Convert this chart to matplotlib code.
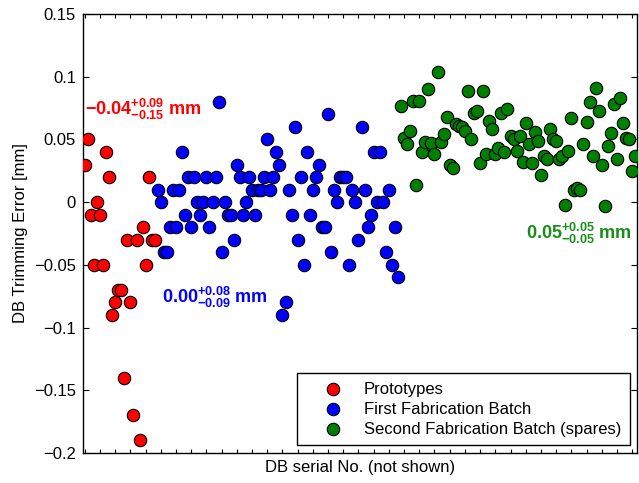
import matplotlib
matplotlib.use("Agg")
import matplotlib.pyplot as plt
import numpy as np

plt.rcParams['font.family'] = ['Liberation Sans', 'DejaVu Sans']
plt.rcParams['mathtext.fontset'] = 'custom'
plt.rcParams['mathtext.rm'] = 'Liberation Sans'
plt.rcParams['mathtext.bf'] = 'Liberation Sans:bold'
plt.rcParams['axes.unicode_minus'] = True

# Data (DB trimming error in mm), ordered by (hidden) serial number
proto_err = [0.03, 0.05, -0.01, -0.05, 0.0, -0.01, -0.05, 0.04, 0.02, -0.09,
             -0.08, -0.07, -0.07, -0.14, -0.03, -0.08, -0.17, -0.03, -0.19, -0.02,
             -0.05, 0.02, -0.03, -0.03]
batch1_err = [0.01, 0.0, -0.04, -0.04, -0.02, 0.01, -0.02, 0.01, 0.04, -0.01,
              0.02, -0.02, 0.02, 0.0, -0.01, 0.0, 0.02, -0.02, 0.0, 0.02,
              0.08, -0.04, 0.0, -0.01, -0.01, -0.03, 0.03, 0.02, -0.01, 0.0,
              0.02, 0.01, -0.01, 0.01, 0.01, 0.02, 0.05, 0.01, 0.02, 0.04,
              0.03, -0.09, -0.08, 0.01, -0.01, 0.06, -0.03, 0.02, -0.05, 0.04,
              -0.01, 0.01, 0.02, 0.03, -0.02, -0.02, 0.07, -0.04, 0.01, 0.0,
              0.02, 0.02, 0.02, -0.05, 0.01, 0.0, -0.03, 0.06, 0.01, -0.02,
              -0.01, 0.04, 0.0, 0.04, 0.0, -0.04, 0.01, -0.05, -0.02, -0.06]
batch2_err = [0.077, 0.051, 0.046, 0.057, 0.081, 0.014, 0.081, 0.040, 0.048, 0.090,
              0.047, 0.038, 0.104, 0.048, 0.054, 0.068, 0.030, 0.027, 0.062, 0.061,
              0.060, 0.057, 0.089, 0.050, 0.071, 0.073, 0.031, 0.089, 0.038, 0.065,
              0.058, 0.038, 0.043, 0.071, 0.040, 0.074, 0.053, 0.050, 0.041, 0.053,
              0.032, 0.063, 0.046, 0.031, 0.056, 0.049, 0.022, 0.037, 0.034, 0.058,
              0.050, 0.049, 0.034, 0.037, -0.002, 0.041, 0.067, 0.010, 0.011, 0.010,
              0.046, 0.064, 0.080, 0.037, 0.091, 0.073, 0.030, -0.003, 0.045, 0.055,
              0.078, 0.034, 0.083, 0.063, 0.051, 0.050, 0.025, 0.037]

series_labels = ['Prototypes', 'First Fabrication Batch', 'Second Fabrication Batch (spares)']
series_colors = ['#ff0000', '#0000ff', '#007f00']
summary_texts = [r'$\mathbf{-0.04^{+0.09}_{-0.15}}$ mm',
                 r'$\mathbf{0.00^{+0.08}_{-0.09}}$ mm',
                 r'$\mathbf{0.05^{+0.05}_{-0.05}}$ mm']
text_colors = ['#ff0000', '#0000ff', '#1a8c1a']

yticks = [0.15, 0.1, 0.05, 0, -0.05, -0.1, -0.15, -0.2]
ytick_labels = ['0.15', '0.1', '0.05', '0', '\u22120.05', '\u22120.1', '\u22120.15', '\u22120.2']

fig = plt.figure(figsize=(6.39, 4.83), dpi=100)
ax = fig.add_axes([83/639, 1-453/483, (637-83)/639, (453-14)/483])

start = 0
for vals, lab, col in zip([proto_err, batch1_err, batch2_err], series_labels, series_colors):
    x = np.arange(start, start + len(vals))
    ax.scatter(x, vals, s=80, c=col, edgecolors='black', linewidths=0.8,
               label=lab, zorder=3, clip_on=True)
    start += len(vals)

ax.set_xlim(-0.6, 181.6)
ax.set_ylim(-0.2, 0.15)
ax.set_yticks(yticks)
ax.set_yticklabels(ytick_labels, fontsize=12)
ax.set_xticks(np.arange(0, 182, 5))
ax.set_xticklabels([])
ax.tick_params(axis='both', direction='in', top=True, right=True, length=4, width=0.8, pad=5)
ax.tick_params(axis='x', length=3)
for sp in ax.spines.values():
    sp.set_linewidth(1.0)

ax.set_ylabel('DB Trimming Error [mm]', fontsize=12, labelpad=4)
ax.set_xlabel('DB serial No. (not shown)', fontsize=12, labelpad=0)

# Annotations
ax.text(0.0, 0.074, summary_texts[0], color=text_colors[0], fontsize=13, fontweight='bold',
        ha='left', va='center')
ax.text(25.3, -0.076, summary_texts[1], color=text_colors[1], fontsize=13, fontweight='bold',
        ha='left', va='center')
ax.text(145.0, -0.025, summary_texts[2], color=text_colors[2], fontsize=13, fontweight='bold',
        ha='left', va='center')

leg = ax.legend(loc='lower right', fontsize=12, frameon=True, fancybox=False,
                edgecolor='black', framealpha=1, scatterpoints=1,
                borderaxespad=0.0, handlelength=3.3, handletextpad=0.2,
                labelspacing=0.3, borderpad=0.5, bbox_to_anchor=(0.987, 0.018))
leg.get_frame().set_linewidth(1.0)

fig.savefig('out.png', dpi=100)
